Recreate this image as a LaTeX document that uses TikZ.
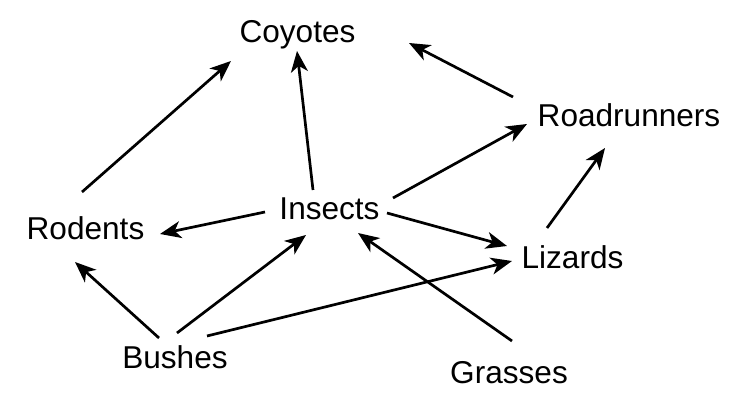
\documentclass[tikz,border=0pt]{standalone}
\usepackage{fontspec}
\setmainfont{Liberation Sans}
\usepackage{tikz}
\usetikzlibrary{arrows.meta}

\begin{document}
\begin{tikzpicture}[>={Stealth[length=21bp,width=17bp,inset=6bp]},line join=bevel,
  species/.style={anchor=base,inner sep=0pt,font=\fontsize{31.7}{36}\selectfont},
  eats/.style={->,line width=2.7bp},]
%%
\useasboundingbox (0bp,0bp) rectangle (743bp,406bp);
\node (coy) at (297.5bp,363bp) [species] {Coyotes};
  \node (road) at (629bp,279bp) [species] {Roadrunners};
  \node (ins) at (329.5bp,186bp) [species] {Insects};
  \node (rod) at (85.5bp,166bp) [species] {Rodents};
  \node (liz) at (572.5bp,137bp) [species] {Lizards};
  \node (bus) at (175bp,38bp) [species] {Bushes};
  \node (gra) at (509bp,23bp) [species] {Grasses};
  \draw [eats] ([shift={(-3.5bp,48bp)}]rod.base) -- ([shift={(-66.5bp,-18bp)}]coy.base);
  \draw [eats] ([shift={(-16.5bp,30bp)}]ins.base) -- ([shift={(-0.5bp,-8bp)}]coy.base);
  \draw [eats] ([shift={(-116bp,30bp)}]road.base) -- ([shift={(111.5bp,0bp)}]coy.base);
  \draw [eats] ([shift={(63.5bp,22bp)}]ins.base) -- ([shift={(-102bp,3bp)}]road.base);
  \draw [eats] ([shift={(-64.5bp,8bp)}]ins.base) -- ([shift={(74.5bp,6bp)}]rod.base);
  \draw [eats] ([shift={(57.5bp,7bp)}]ins.base) -- ([shift={(-65.5bp,23bp)}]liz.base);
  \draw [eats] ([shift={(-25.5bp,41bp)}]liz.base) -- ([shift={(-24bp,-21bp)}]road.base);
  \draw [eats] ([shift={(-16bp,30bp)}]bus.base) -- ([shift={(-10.5bp,-22bp)}]rod.base);
  \draw [eats] ([shift={(2bp,35bp)}]bus.base) -- ([shift={(-23.5bp,-15bp)}]ins.base);
  \draw [eats] ([shift={(32bp,32bp)}]bus.base) -- ([shift={(-60.5bp,8bp)}]liz.base);
  \draw [eats] ([shift={(3bp,42bp)}]gra.base) -- ([shift={(28.5bp,-13bp)}]ins.base);
%
\end{tikzpicture}
\end{document}
